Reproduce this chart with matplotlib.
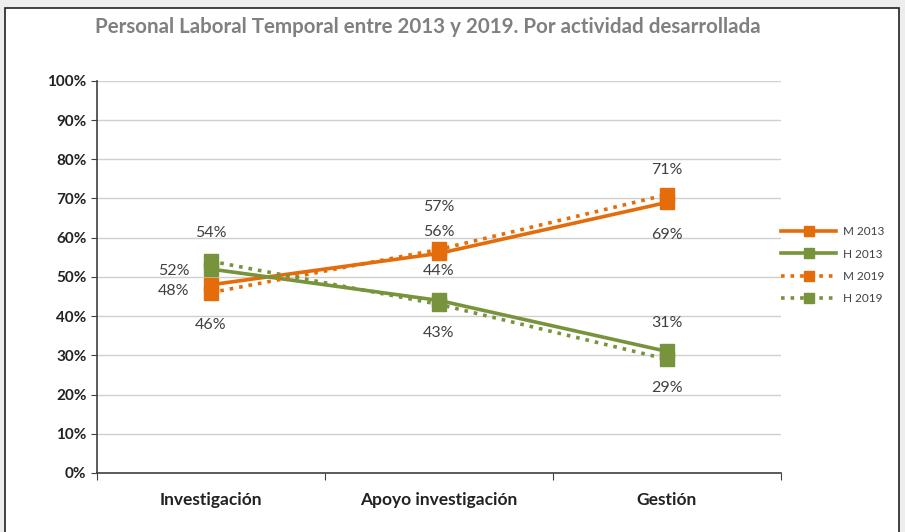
import matplotlib
matplotlib.use("Agg")
import matplotlib.pyplot as plt
from matplotlib.patches import Rectangle
from matplotlib.ticker import FuncFormatter

plt.rcParams['font.family'] = ['Lato', 'DejaVu Sans']

categorias = ['Investigación', 'Apoyo investigación', 'Gestión']
m_2013 = [48, 56, 69]
h_2013 = [52, 44, 31]
m_2019 = [46, 57, 71]
h_2019 = [54, 43, 29]

naranja = '#E46C0A'
verde = '#77933C'

fig = plt.figure(figsize=(9.05, 5.32), dpi=100)
fig.patch.set_facecolor('#EDEDED')
fig.add_artist(Rectangle((0.005, -0.01), 0.988, 0.995, transform=fig.transFigure,
                         facecolor='white', edgecolor='#222222', linewidth=1.2, zorder=0))

ax = fig.add_axes([0.107, 0.111, 0.756, 0.737])
ax.set_facecolor('white')
x = [1, 2, 3]

series = [
    ('M 2013', m_2013, naranja, '-'),
    ('H 2013', h_2013, verde, '-'),
    ('M 2019', m_2019, naranja, ':'),
    ('H 2019', h_2019, verde, ':'),
]
for nombre, vals, col, ls in series:
    ax.plot(x, vals, color=col, linestyle=ls, linewidth=2.6, marker='s',
            markersize=10, label=nombre, zorder=3)

# desplazamiento de las etiquetas en pixeles (dx, dy hacia arriba)
offsets = {
    'M 2013': [(-37, -6), (0, 21), (0, -33)],
    'H 2013': [(-37, -2), (0, 29), (0, 28)],
    'M 2019': [(0, -32), (0, 42), (0, 25)],
    'H 2019': [(0, 28), (0, -29), (0, -29)],
}
for nombre, vals, col, ls in series:
    for xi, v, (dx, dy) in zip(x, vals, offsets[nombre]):
        ax.annotate(f'{v}%', (xi, v), xytext=(dx, dy), textcoords='offset pixels',
                    ha='center', va='center', fontsize=11.5, color='#404040')

ax.set_xlim(0.5, 3.5)
ax.set_ylim(0, 100)
ax.set_yticks(range(0, 101, 10))
ax.yaxis.set_major_formatter(FuncFormatter(lambda v, p: f'{int(v)}%'))
ax.set_xticks([0.5, 1.5, 2.5, 3.5])
ax.set_xticklabels([])
ax.tick_params(axis='x', length=5, color='#404040')
ax.tick_params(axis='y', length=4, color='#404040', labelsize=11)
for lbl in ax.get_yticklabels():
    lbl.set_fontweight('bold')
    lbl.set_color('#222222')
for xi, cat in zip(x, categorias):
    ax.text(xi, -7, cat, ha='center', va='center', fontsize=12.5,
            fontweight='bold', color='#222222', transform=ax.transData)

ax.grid(axis='y', color='#D0D0D0', linewidth=1)
ax.set_axisbelow(True)
for s in ['top', 'right']:
    ax.spines[s].set_visible(False)
ax.spines['left'].set_color('#404040')
ax.spines['bottom'].set_color('#404040')
ax.spines['left'].set_linewidth(1.2)
ax.spines['bottom'].set_linewidth(1.2)

leg = ax.legend(loc='center left', bbox_to_anchor=(0.985, 0.53), frameon=False,
                fontsize=8.5, handlelength=4.6, markerscale=0.75,
                labelspacing=0.95, handletextpad=0.6)
for t in leg.get_texts():
    t.set_color('#404040')

fig.text(0.473, 0.949, 'Personal Laboral Temporal entre 2013 y 2019. Por actividad desarrollada',
         ha='center', va='center', fontsize=14.8, fontweight='bold', color='#808080')

fig.savefig('out.png', dpi=100)
